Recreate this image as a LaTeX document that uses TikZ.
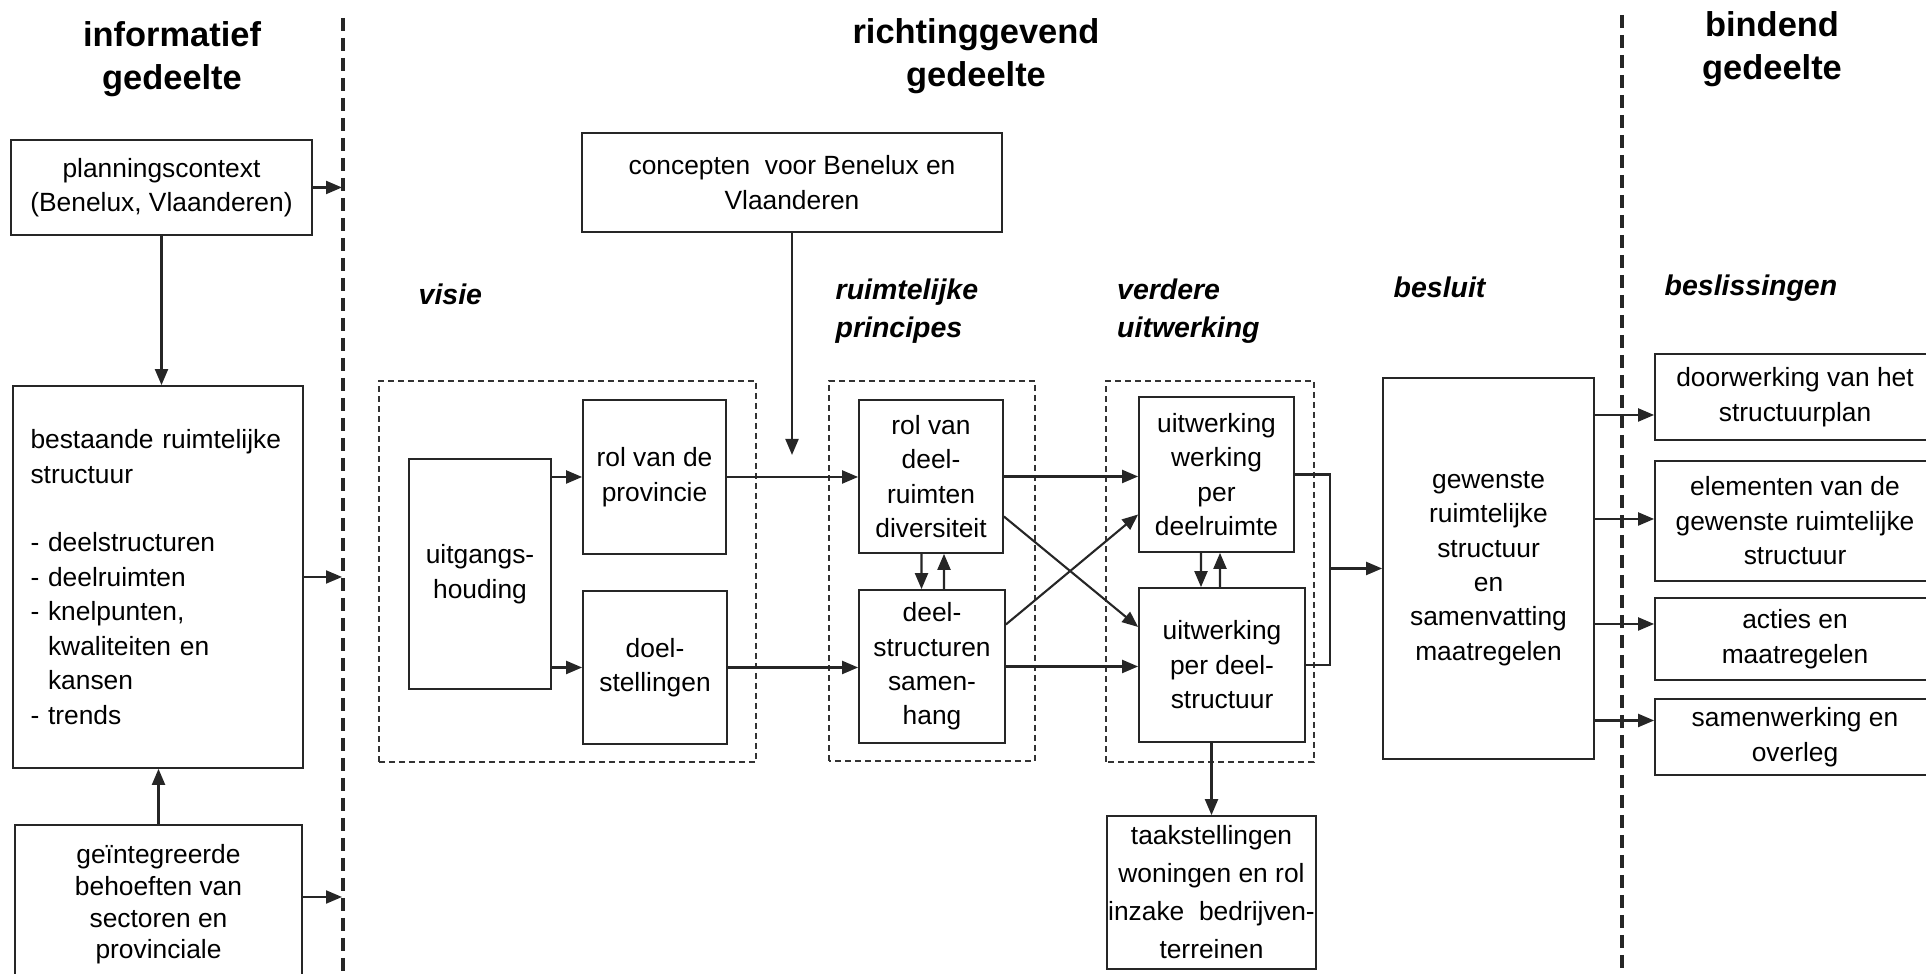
\documentclass[tikz,border=0pt]{standalone}
\usepackage{fontspec}
\setmainfont{Liberation Sans}
\usepackage{tikz}
\usetikzlibrary{arrows.meta}
\tikzstyle{arrow} = [line width=0.6pt,draw=black!85,fill=black!85,-{Triangle[length=1.6mm,width=1.3mm]}]
\tikzstyle{box} = [draw=black!85,line width=0.5pt,align=center,inner sep=0pt,font=\fontsize{7.5}{9.8}\selectfont]
\tikzstyle{group} = [draw=black!80,line width=0.4pt,dash pattern=on 0.6mm off 0.4mm]
\tikzstyle{divider} = [draw=black!85,line width=1pt,dash pattern=on 1.3mm off 0.7mm]
\tikzstyle{title} = [align=center,font=\fontsize{9.8}{12.2}\selectfont\bfseries]
\tikzstyle{phase} = [align=left,anchor=west,inner sep=0pt,font=\fontsize{8.1}{10.8}\selectfont\bfseries\itshape]

\begin{document}
\begin{tikzpicture}   % structuurplan: informatief, richtinggevend en bindend gedeelte

%        \draw[help lines] (0, 0) grid (19,9);
        \useasboundingbox (0, 0) rectangle (19.26, 9.74);

        % Titles of the three parts
        \node[title] (tinfo) at (1.72,9.15) {informatief\\gedeelte};
        \node[title] (trich) at (9.76,9.18) {richtinggevend\\gedeelte};
        \node[title] (tbind) at (17.72,9.245) {bindend\\gedeelte};

        % Dashed dividers between the parts
        \draw[divider] (3.43,9.56) -- (3.43,0);
        \draw[divider] (16.22,9.59) -- (16.22,0);
        \coordinate (infoL) at (3.42,0);

        % Informatief gedeelte
        \node[box,minimum width=3.01cm,minimum height=0.95cm] (plan) at (1.615,7.865)
            {planningscontext\\(Benelux, Vlaanderen)};
        \node[box,minimum width=2.90cm,minimum height=3.82cm,text width=2.55cm,align=left] (bestaande) at (1.58,3.97)
            {bestaande ruimtelijke\\structuur\\[9.8pt]- deelstructuren\\- deelruimten\\- knelpunten,\\\hphantom{- }kwaliteiten en\\\hphantom{- }kansen\\- trends};
        \node[box,anchor=north,minimum width=2.87cm,inner ysep=0.2cm,font=\fontsize{7.5}{9}\selectfont] (geint) at (1.585,1.50)
            {geïntegreerde\\behoeften van\\sectoren en\\provinciale\\\strut};
        \coordinate (geintout) at ([yshift=-7.3mm]geint.north east);

        % Phase labels
        \node[phase] (visie) at (4.18,6.80) {visie};
        \node[phase] (principes) at (8.35,6.63) {ruimtelijke\\principes};
        \node[phase] (verder) at (11.165,6.63) {verdere\\uitwerking};
        \node[phase] (besluit) at (13.93,6.87) {besluit};
        \node[phase] (beslis) at (16.64,6.86) {beslissingen};

        % Concepten on top
        \node[box,minimum width=4.20cm,minimum height=0.99cm] (concepten) at (7.92,7.915)
            {concepten~ voor Benelux en\\Vlaanderen};
        \coordinate (inval) at (7.92,5.19);

        % Visie group
        \draw[group] (3.79,2.12) rectangle (7.56,5.93);
        \node[box,minimum width=1.42cm,minimum height=2.30cm] (uitgangs) at (4.80,4.00) {uitgangs-\\houding};
        \node[box,minimum width=1.43cm,minimum height=1.54cm] (provincie) at (6.545,4.97) {rol van de\\provincie};
        \node[box,minimum width=1.44cm,minimum height=1.53cm] (doel) at (6.55,3.065) {doel-\\stellingen};

        % Ruimtelijke principes group
        \draw[group] (8.29,2.13) rectangle (10.35,5.93);
        \node[box,minimum width=1.44cm,minimum height=1.53cm] (rolvan) at (9.31,4.975) {rol van\\deel-\\ruimten\\diversiteit};
        \node[box,minimum width=1.46cm,minimum height=1.53cm] (samenhang) at (9.32,3.075) {deel-\\structuren\\samen-\\hang};

        % Verdere uitwerking group
        \draw[group] (11.06,2.12) rectangle (13.14,5.93);
        \node[box,minimum width=1.55cm,minimum height=1.55cm] (uitw1) at (12.165,4.995) {uitwerking\\werking\\per\\deelruimte};
        \node[box,minimum width=1.66cm,minimum height=1.54cm] (uitw2) at (12.22,3.09) {uitwerking\\per deel-\\structuur};
        \node[box,minimum width=2.09cm,minimum height=1.53cm,font=\fontsize{7.5}{10.8}\selectfont] (taak) at (12.115,0.815)
            {taakstellingen\\woningen en rol\\inzake~ bedrijven-\\terreinen};
        \coordinate (join) at (13.30,4.055);

        % Besluit
        \node[box,minimum width=2.11cm,minimum height=3.81cm] (gewenste) at (14.885,4.055)
            {gewenste\\ruimtelijke\\structuur\\en\\samenvatting\\maatregelen};

        % Beslissingen (bindend gedeelte)
        \node[box,minimum width=2.80cm,minimum height=0.86cm] (door) at (17.95,5.77) {doorwerking van het\\structuurplan};
        \node[box,minimum width=2.80cm,minimum height=1.20cm] (elem) at (17.95,4.53) {elementen van de\\gewenste ruimtelijke\\structuur};
        \node[box,minimum width=2.80cm,minimum height=0.82cm] (acties) at (17.95,3.35) {acties en\\maatregelen};
        \node[box,minimum width=2.80cm,minimum height=0.76cm] (samenw) at (17.95,2.37) {samenwerking en\\overleg};

        % Arrows in the informatief gedeelte
        \draw[arrow] (plan.east) -- (plan.east -| infoL);                       % plan -> divider
        \draw[arrow] (plan.south) -- (plan.south |- bestaande.north);           % plan -> bestaande
        \draw[arrow] (bestaande.east) -- (bestaande.east -| infoL);             % bestaande -> divider
        \draw[arrow] (geint.north) -- (geint.north |- bestaande.south);         % geint -> bestaande
        \draw[arrow] (geintout) -- (geintout -| infoL);                         % geint -> divider

        % Arrows in the richtinggevend gedeelte
        \draw[arrow] (concepten.south) -- (concepten.south |- inval);           % concepten
        \draw[arrow] (uitgangs.east |- provincie) -- (provincie.west);          % uitgangs -> provincie
        \draw[arrow] (uitgangs.east |- doel) -- (doel.west);                    % uitgangs -> doel
        \draw[arrow] (provincie.east) -- (rolvan.west |- provincie.east);       % provincie -> rolvan
        \draw[arrow] (doel.east) -- (samenhang.west |- doel.east);              % doel -> samenhang
        \draw[arrow] ([xshift=-0.95mm]rolvan.south) -- ([xshift=-1.05mm]samenhang.north);  % rolvan -> samenhang
        \draw[arrow] ([xshift=1.2mm]samenhang.north) -- ([xshift=1.3mm]rolvan.south);      % samenhang -> rolvan
        \draw[arrow] (rolvan.east) -- (uitw1.west |- rolvan.east);              % rolvan -> uitw1
        \draw[arrow] (samenhang.east) -- (uitw2.west |- samenhang.east);        % samenhang -> uitw2
        \draw[arrow] ([yshift=-4mm]rolvan.east) -- ([yshift=3.8mm]uitw2.west);  % rolvan -> uitw2
        \draw[arrow] ([yshift=4.2mm]samenhang.east) -- ([yshift=-4mm]uitw1.west);  % samenhang -> uitw1
        \draw[arrow] ([xshift=-1.55mm]uitw1.south) -- ([xshift=-2.1mm]uitw2.north);  % uitw1 -> uitw2
        \draw[arrow] ([xshift=-0.2mm]uitw2.north) -- ([xshift=0.35mm]uitw1.south);   % uitw2 -> uitw1
        \draw[arrow] (uitw2.south -| taak.north) -- (taak.north);               % uitw2 -> taak
        \draw[line width=0.6pt,draw=black!85] (uitw1.east) -| (join) |- (uitw2.east);  % bracket
        \draw[arrow] (join) -- (gewenste.west);                                 % bracket -> gewenste

        % Arrows into the bindend gedeelte
        \draw[arrow] (gewenste.east |- 0,5.59) -- (door.west |- 0,5.59);        % gewenste -> door
        \draw[arrow] (gewenste.east |- 0,4.55) -- (elem.west |- 0,4.55);        % gewenste -> elem
        \draw[arrow] (gewenste.east |- 0,3.50) -- (acties.west |- 0,3.50);      % gewenste -> acties
        \draw[arrow] (gewenste.east |- 0,2.535) -- (samenw.west |- 0,2.535);    % gewenste -> samenw

\end{tikzpicture}
\end{document}
